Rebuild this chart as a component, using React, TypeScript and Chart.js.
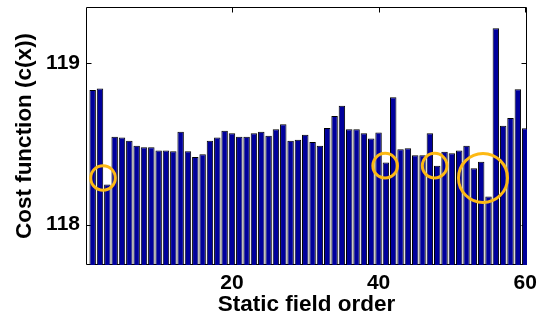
import React, { useEffect, useRef } from 'react';
import { Chart, registerables } from 'chart.js';

Chart.register(...registerables);

// ---- data ----
const FIELD_ORDER = [
  1, 2, 3, 4, 5, 6, 7, 8, 9, 10,
  11, 12, 13, 14, 15, 16, 17, 18, 19, 20,
  21, 22, 23, 24, 25, 26, 27, 28, 29, 30,
  31, 32, 33, 34, 35, 36, 37, 38, 39, 40,
  41, 42, 43, 44, 45, 46, 47, 48, 49, 50,
  51, 52, 53, 54, 55, 56, 57, 58, 59, 60,
];
const COST_VALUES = [
  118.835, 118.845, 118.25, 118.546, 118.54, 118.52, 118.49, 118.48, 118.48, 118.46,
  118.46, 118.455, 118.577, 118.455, 118.42, 118.437, 118.52, 118.54, 118.583, 118.567,
  118.546, 118.546, 118.567, 118.577, 118.552, 118.592, 118.623, 118.521, 118.526, 118.558,
  118.513, 118.489, 118.6, 118.674, 118.738, 118.592, 118.592, 118.567, 118.534, 118.571,
  118.385, 118.79, 118.468, 118.474, 118.431, 118.431, 118.567, 118.365, 118.453, 118.443,
  118.46, 118.489, 118.35, 118.39, 118.175, 119.218, 118.614, 118.662, 118.84, 118.598,
];
const Y_TICK_VALUES = [118, 119];
const X_TICK_VALUES = [20, 40, 60];
const HIGHLIGHT_ORDER = [2.41, 40.9, 47.65, 54.25];
const HIGHLIGHT_COST = [118.29, 118.366, 118.366, 118.29];

const FONT_FAMILY = '"Liberation Sans", Arial, Helvetica, sans-serif';

const framePlugin = {
  id: 'matlabFrame',
  beforeDatasetsDraw(chart: any) {
    const { ctx, chartArea: a, scales } = chart;
    const L = Math.round(a.left) + 0.5;
    const R = Math.round(a.right) - 0.5;
    const T = Math.round(a.top) + 0.5;
    const B = Math.round(a.bottom) - 0.5;
    const tl = 5;
    ctx.save();
    ctx.strokeStyle = '#000';
    ctx.lineWidth = 1;
    ctx.beginPath();
    ctx.rect(L, T, R - L, B - T);
    scales.x.ticks.forEach((t: any) => {
      const px = Math.round(scales.x.getPixelForValue(t.value)) + 0.5;
      ctx.moveTo(px, T);
      ctx.lineTo(px, T + tl);
      ctx.moveTo(px, B);
      ctx.lineTo(px, B - tl);
    });
    scales.y.ticks.forEach((t: any) => {
      const py = Math.round(scales.y.getPixelForValue(t.value)) + 0.5;
      ctx.moveTo(L, py);
      ctx.lineTo(L + tl, py);
      ctx.moveTo(R, py);
      ctx.lineTo(R - tl, py);
    });
    ctx.stroke();
    ctx.restore();
  },
};

export default function App() {
  const canvasRef = useRef<HTMLCanvasElement | null>(null);

  useEffect(() => {
    const canvas = canvasRef.current;
    if (!canvas) return;
    const chart = new Chart(canvas, {
      type: 'bar',
      data: {
        datasets: [
          {
            type: 'scatter',
            data: HIGHLIGHT_ORDER.map((x, i) => ({ x, y: HIGHLIGHT_COST[i] })),
            pointRadius: [12.3, 12.3, 12.3, 24.5],
            pointHoverRadius: [12.3, 12.3, 12.3, 24.5],
            pointBorderWidth: 3,
            borderColor: '#FDB913',
            backgroundColor: 'rgba(0,0,0,0)',
            order: 0,
          } as any,
          {
            type: 'bar',
            data: FIELD_ORDER.map((x, i) => ({ x, y: COST_VALUES[i] })),
            backgroundColor: '#00009C',
            borderColor: '#000000',
            borderWidth: 1,
            barPercentage: 0.88,
            categoryPercentage: 1,
            order: 1,
          } as any,
        ],
      },
      options: {
        responsive: false,
        animation: false,
        devicePixelRatio: 1,
        layout: { autoPadding: false, padding: { top: 7, right: 13, left: 0, bottom: 0 } },
        plugins: {
          legend: { display: false },
          tooltip: { enabled: false },
        },
        scales: {
          x: {
            type: 'linear',
            min: 0.09,
            max: 60.25,
            offset: false,
            grid: { display: false, drawTicks: false, offset: false },
            border: { display: false },
            ticks: {
              color: '#000',
              padding: 6,
              maxRotation: 0,
              font: { family: FONT_FAMILY, size: 21, weight: 'bold' },
            },
            afterBuildTicks: (s: any) => {
              s.ticks = X_TICK_VALUES.map((v) => ({ value: v }));
            },
            afterFit: (s: any) => {
              s.height = 55;
              s.paddingLeft = 0;
              s.paddingRight = 0;
            },
            title: {
              display: true,
              text: 'Static field order',
              color: '#000',
              padding: { top: 0, bottom: 2 },
              font: { family: FONT_FAMILY, size: 22.5, weight: 'bold' },
            },
          },
          y: {
            type: 'linear',
            min: 117.75,
            max: 119.35,
            beginAtZero: false,
            grid: { display: false, drawTicks: false },
            border: { display: false },
            ticks: {
              color: '#000',
              padding: 6,
              font: { family: FONT_FAMILY, size: 21, weight: 'bold' },
            },
            afterBuildTicks: (s: any) => {
              s.ticks = Y_TICK_VALUES.map((v) => ({ value: v }));
            },
            afterFit: (s: any) => {
              s.width = 86;
              s.paddingTop = 0;
              s.paddingBottom = 0;
            },
            title: {
              display: true,
              text: 'Cost function (c(x))',
              color: '#000',
              padding: { top: 11, bottom: 0 },
              font: { family: FONT_FAMILY, size: 22.5, weight: 'bold' },
            },
          },
        },
      } as any,
      plugins: [framePlugin],
    });
    return () => chart.destroy();
  }, []);

  return (
    <div style={{ position: 'absolute', left: 0, top: 0, width: 540, height: 320, background: '#fff' }}>
      <canvas ref={canvasRef} width={540} height={320} style={{ width: 540, height: 320, display: 'block' }} />
    </div>
  );
}
